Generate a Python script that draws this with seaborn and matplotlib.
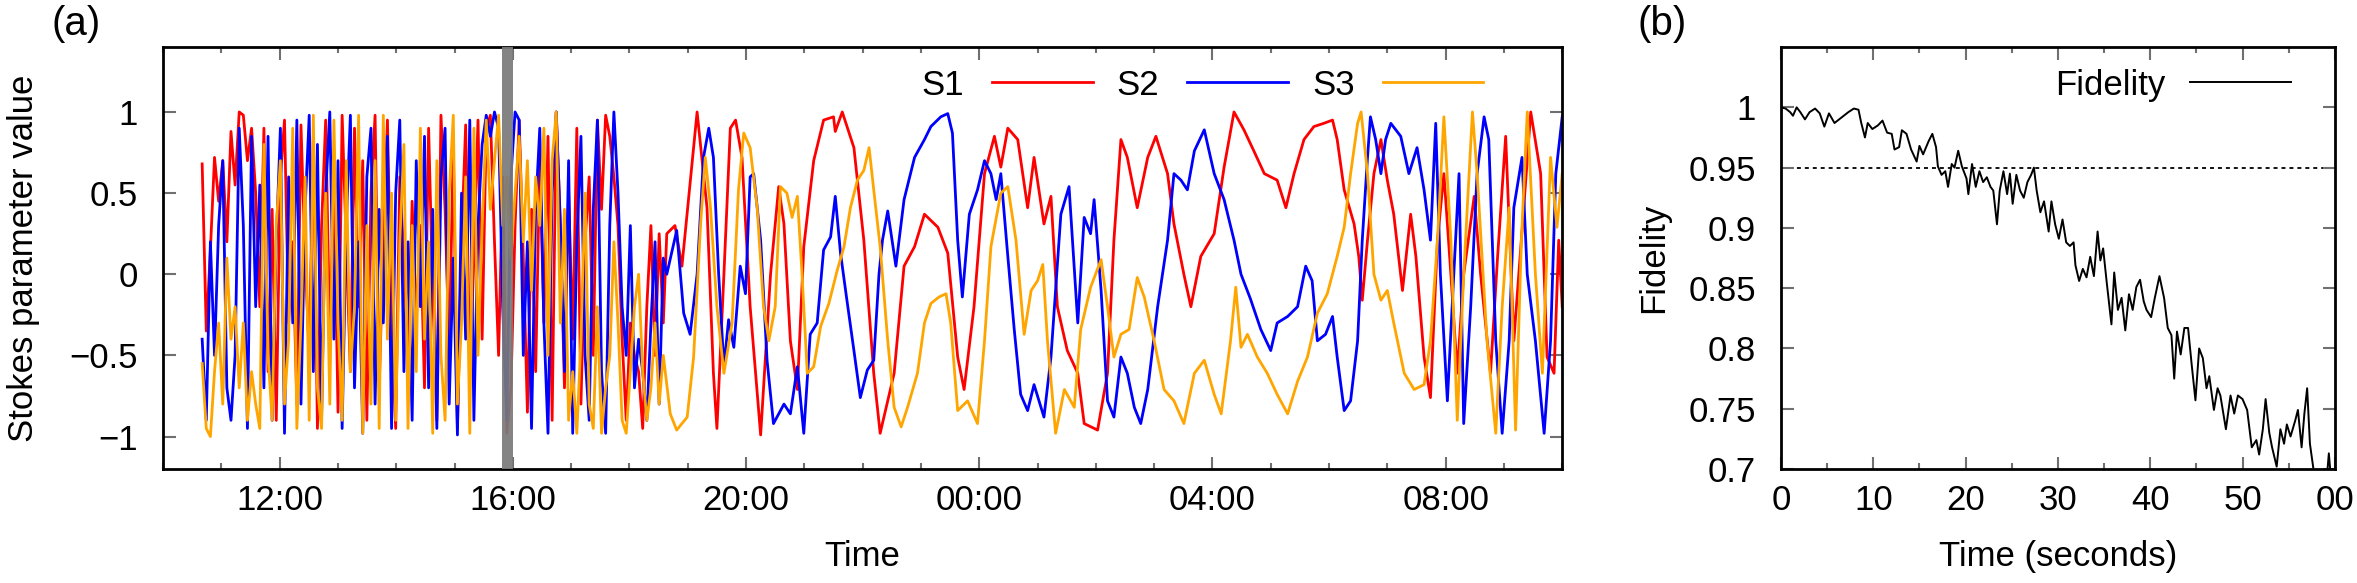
import numpy as np
import pandas as pd
import matplotlib
matplotlib.use('Agg')
import matplotlib.pyplot as plt
import seaborn as sns
from matplotlib.ticker import MultipleLocator, FixedLocator, FuncFormatter

plt.rcParams['font.family'] = ['Liberation Sans', 'DejaVu Sans']

# panel (a): clock hours (24+ means next day)
dense_start, dense_end = 10.67, 18.58

s1_dense = [0.68, -0.35, 0.15, 0.72, 0.45, 0.7, 0.2, 0.88, 0.55, 1.0, 0.98, 0.7, 0.9, 0.5,
            -0.2, 0.9, -0.6, 0.4, -0.9, 0.6, 0.95, -0.3, 0.2, -0.8, 0.92, 0.1, -0.5,
            0.85, -0.95, 0.3, 0.95, -0.4, 0.6, -0.85, 0.98, 0.2, -0.6, 0.9, -0.2, 0.7, -0.9,
            0.5, 0.98, -0.7, 0.2, 0.95, -0.3, -0.95, 0.6, 0.1, -0.6, 0.45, -0.3, 0.3, -0.7,
            0.9, -0.1, -0.9, 0.98, 0.4, -0.5, 0.8, -0.95, 0.2, 0.92, -0.6, 0.1, 0.95, -0.4,
            0.9, 0.98, 0.2, -0.5, 0.6, -0.98, -0.7, 0.3, 0.95, 0.1, -0.85, 0.4, -0.6, 0.7,
            -0.3, 0.85, -0.9, 1.0, 0.3, -0.7, 0.5, -0.4, 0.9, -0.8, 0.2, 0.6, -0.5, 0.95,
            0.4, 0.98, 0.85, 0.6, 0.3, -0.4, -0.9, -0.3, -0.5, -0.6, -0.95, -0.2, 0.3, -0.5, 0.25, -0.3]

s2_dense = [-0.4, -0.9, 0.2, -0.5, 0.3, 0.7, -0.7, -0.9, -0.5, 0.9, 0.3, -0.95, 0.85, -0.2,
            0.55, -0.7, 0.85, -0.9, 0.2, 0.9, -0.98, 0.6, -0.3, 0.95, -0.8, 0.4, 0.98,
            -0.6, 0.8, -0.9, 0.5, 1.0, -0.4, 0.7, -0.95, 0.3, 0.98, -0.7, 0.2, -0.98, 0.6,
            0.9, -0.8, 0.4, -0.3, 0.85, -0.95, 0.5, 0.95, -0.6, 0.2, -0.9, 0.7, -0.2, 0.85,
            -0.7, 0.4, -0.95, 0.6, 0.9, -0.8, 0.1, -0.99, 0.5, -0.4, 0.95, -0.9, 0.3, 0.8,
            0.98, 0.85, 1.0, 0.9, -0.2, -0.9, 0.6, 1.0, 0.95, -0.5, 0.2, -0.95, 0.4, 0.9,
            -0.3, -0.98, 0.5, 1.0, 0.3, -0.6, 0.7, -0.98, 0.2, 0.85, -0.5, -0.9, 0.4, 0.95,
            -0.6, -0.98, 0.3, 1.0, 0.5, -0.2, -0.5, 0.3, -0.7, -0.4, -0.6, -0.9, -0.3, 0.2, -0.8, 0.1]

s3_dense = [-0.55, -0.95, -1.0, -0.6, -0.3, -0.8, 0.1, -0.4, -0.2, -0.7, -0.3, -0.9, -0.6, -0.8,
            -0.95, 0.8, -0.5, -0.9, 0.3, 0.7, -0.8, -0.4, 0.9, -0.95, -0.3, 0.6, -0.9,
            0.98, -0.7, -0.95, 0.5, -0.8, 0.95, -0.3, -0.9, 0.7, -0.6, -0.2, 0.98, -0.98, 0.3,
            -0.8, 0.7, -0.95, 0.98, -0.4, 0.5, -0.9, 0.2, 0.8, -0.95, 0.3, -0.6, 0.9, -0.4,
            0.2, -0.98, 0.7, -0.5, -0.9, 0.5, 0.98, -0.8, -0.3, 0.6, -0.98, 0.9, -0.5, 0.3,
            0.95, 0.4, 0.7, 0.98, 0.3, 0.6, 0.1, 0.5, 0.85, 0.2, 0.7, -0.1, 0.6, 0.3,
            0.9, -0.5, 0.7, 1.0, -0.3, 0.4, -0.9, -0.6, -0.98, -0.4, 0.5, -0.8, -0.95, -0.2,
            -0.98, -0.7, -0.5, 0.2, -0.3, -0.9, -0.98, -0.6, -0.2, 0.0, -0.6, -0.9, -0.7, -0.3, -0.8, -0.5]

s1_slow = [(18.64, 0.25), (18.78, 0.3), (18.9, 0.05), (19.04, 0.56), (19.16, 1.0), (19.33, 0.41),
           (19.44, -0.61), (19.5, -0.95), (19.62, 0.0), (19.73, 0.9), (19.82, 0.95), (19.93, 0.72),
           (20.07, -0.2), (20.25, -0.99), (20.42, 0.0), (20.56, 0.54), (20.65, 0.31), (20.76, -0.41),
           (20.88, -0.71), (20.99, 0.17), (21.16, 0.7), (21.33, 0.95), (21.5, 0.97), (21.53, 0.88),
           (21.65, 1.0), (21.85, 0.78), (22.02, 0.21), (22.19, -0.61), (22.3, -0.98), (22.54, -0.61),
           (22.71, 0.05), (22.89, 0.17), (23.06, 0.37), (23.29, 0.29), (23.46, 0.13), (23.63, -0.51),
           (23.74, -0.71), (23.91, -0.2), (24.09, 0.62), (24.26, 0.85), (24.37, 0.66), (24.49, 0.9),
           (24.66, 0.83), (24.83, 0.41), (24.94, 0.72), (25.11, 0.31), (25.23, 0.48), (25.34, -0.2),
           (25.51, -0.47), (25.69, -0.61), (25.8, -0.92), (26.03, -0.96), (26.2, -0.61), (26.31, 0.21),
           (26.43, 0.83), (26.54, 0.72), (26.71, 0.41), (26.89, 0.72), (27.03, 0.85), (27.23, 0.62),
           (27.34, 0.31), (27.51, 0.0), (27.63, -0.2), (27.8, 0.11), (28.03, 0.25), (28.2, 0.66),
           (28.37, 1.0), (28.54, 0.89), (28.71, 0.76), (28.89, 0.62), (29.11, 0.58), (29.26, 0.41),
           (29.4, 0.62), (29.57, 0.83), (29.74, 0.91), (29.91, 0.93), (30.06, 0.95), (30.14, 0.83),
           (30.26, 0.52), (30.43, 0.31), (30.51, 0.11), (30.57, -0.16), (30.66, 0.21), (30.77, 0.62),
           (30.89, 0.83), (31.0, 0.58), (31.11, 0.37), (31.26, -0.1), (31.4, 0.37), (31.49, 0.11),
           (31.63, -0.51), (31.74, -0.76), (31.86, 0.21), (31.97, 0.62), (32.09, 0.0), (32.2, -0.61),
           (32.31, 0.0), (32.49, 0.48), (32.6, 0.0), (32.77, -0.61), (32.89, 0.1), (33.03, 0.85),
           (33.17, -0.41), (33.34, 0.41), (33.46, 1.0), (33.63, 0.62), (33.74, -0.51), (33.86, -0.61),
           (33.94, 0.21), (34.0, -0.2)]

s2_slow = [(18.64, 0.0), (18.81, 0.27), (18.93, -0.24), (19.04, -0.37), (19.16, 0.0), (19.27, 0.72),
           (19.36, 0.9), (19.44, 0.72), (19.53, 0.0), (19.62, -0.57), (19.7, -0.28), (19.79, -0.45),
           (19.9, 0.05), (19.99, -0.12), (20.07, 0.6), (20.13, 0.62), (20.25, 0.21), (20.36, -0.53),
           (20.47, -0.92), (20.65, -0.8), (20.76, -0.86), (20.88, -0.57), (20.99, -0.98), (21.1, -0.37),
           (21.22, -0.3), (21.33, 0.15), (21.45, 0.23), (21.53, 0.48), (21.62, 0.13), (21.73, -0.16),
           (21.85, -0.47), (21.96, -0.76), (22.08, -0.59), (22.19, -0.53), (22.28, 0.0), (22.34, 0.21),
           (22.43, 0.39), (22.57, 0.05), (22.71, 0.46), (22.89, 0.72), (23.06, 0.83), (23.17, 0.91),
           (23.34, 0.97), (23.46, 0.99), (23.54, 0.87), (23.63, 0.21), (23.71, -0.14), (23.83, 0.37),
           (23.97, 0.52), (24.09, 0.7), (24.2, 0.62), (24.29, 0.46), (24.37, 0.62), (24.49, 0.11),
           (24.6, -0.34), (24.71, -0.74), (24.83, -0.84), (24.94, -0.68), (25.11, -0.88), (25.23, -0.51),
           (25.4, 0.37), (25.54, 0.54), (25.69, -0.3), (25.8, 0.35), (25.91, 0.25), (25.97, 0.46),
           (26.09, -0.1), (26.2, -0.78), (26.31, -0.88), (26.43, -0.51), (26.54, -0.61), (26.66, -0.82),
           (26.77, -0.92), (26.89, -0.71), (27.06, -0.2), (27.23, 0.21), (27.34, 0.62), (27.46, 0.58),
           (27.57, 0.52), (27.69, 0.76), (27.86, 0.89), (28.03, 0.62), (28.2, 0.46), (28.37, 0.21),
           (28.49, 0.0), (28.65, -0.15), (28.83, -0.34), (29.0, -0.47), (29.11, -0.3), (29.29, -0.26),
           (29.46, -0.2), (29.6, 0.05), (29.71, -0.04), (29.8, -0.41), (29.94, -0.37), (30.06, -0.26),
           (30.14, -0.51), (30.26, -0.84), (30.37, -0.78), (30.49, -0.41), (30.57, 0.21), (30.66, 0.72),
           (30.71, 0.97), (30.8, 0.83), (30.89, 0.62), (30.97, 0.83), (31.06, 0.93), (31.23, 0.85),
           (31.37, 0.62), (31.51, 0.78), (31.63, 0.52), (31.74, 0.21), (31.83, 0.93), (31.91, 0.0),
           (32.03, -0.78), (32.14, 0.0), (32.23, 0.62), (32.31, -0.92), (32.43, -0.2), (32.54, 0.62),
           (32.66, 0.97), (32.74, 0.83), (32.86, -0.41), (32.97, -0.98), (33.09, -0.41), (33.17, 0.41),
           (33.31, 0.72), (33.4, 0.0), (33.54, -0.41), (33.69, -0.98), (33.8, -0.41), (33.89, 0.62),
           (34.0, 0.97)]

s3_slow = [(18.7, -0.86), (18.81, -0.96), (18.99, -0.88), (19.1, -0.51), (19.22, 0.31), (19.3, 0.72),
           (19.39, 0.41), (19.5, -0.2), (19.62, -0.61), (19.76, -0.3), (19.87, 0.52), (19.96, 0.87),
           (20.07, 0.78), (20.19, 0.41), (20.3, -0.2), (20.39, -0.41), (20.5, -0.2), (20.59, 0.54),
           (20.7, 0.5), (20.79, 0.35), (20.88, 0.48), (20.96, 0.0), (21.05, -0.61), (21.16, -0.57),
           (21.28, -0.32), (21.42, -0.18), (21.56, 0.02), (21.68, 0.17), (21.79, 0.41), (21.91, 0.58),
           (22.02, 0.64), (22.11, 0.78), (22.19, 0.52), (22.3, 0.17), (22.43, -0.41), (22.54, -0.82),
           (22.66, -0.94), (22.77, -0.82), (22.94, -0.61), (23.06, -0.3), (23.17, -0.18), (23.31, -0.14),
           (23.43, -0.12), (23.51, -0.3), (23.63, -0.84), (23.8, -0.78), (23.97, -0.92), (24.09, -0.41),
           (24.2, 0.17), (24.37, 0.5), (24.49, 0.54), (24.63, 0.21), (24.77, -0.37), (24.89, -0.1),
           (25.0, -0.04), (25.09, 0.06), (25.17, -0.41), (25.31, -0.98), (25.46, -0.71), (25.63, -0.82),
           (25.74, -0.34), (25.91, -0.08), (26.09, 0.09), (26.2, -0.2), (26.31, -0.51), (26.43, -0.37),
           (26.57, -0.34), (26.71, -0.02), (26.83, -0.14), (27.0, -0.41), (27.17, -0.71), (27.34, -0.78),
           (27.51, -0.92), (27.69, -0.61), (27.86, -0.53), (28.03, -0.74), (28.15, -0.86), (28.31, -0.41),
           (28.4, -0.08), (28.49, -0.45), (28.6, -0.37), (28.77, -0.51), (28.94, -0.61), (29.11, -0.74),
           (29.29, -0.86), (29.46, -0.66), (29.63, -0.51), (29.8, -0.24), (29.97, -0.12), (30.14, 0.11),
           (30.26, 0.29), (30.37, 0.62), (30.49, 0.93), (30.55, 1.0), (30.66, 0.62), (30.77, 0.0),
           (30.89, -0.16), (31.0, -0.1), (31.11, -0.3), (31.29, -0.61), (31.46, -0.71), (31.63, -0.68),
           (31.74, -0.41), (31.86, 0.21), (31.97, 0.97), (32.09, 0.21), (32.2, -0.9), (32.31, 0.0),
           (32.46, 1.0), (32.54, 0.62), (32.71, -0.41), (32.86, -0.98), (32.97, -0.2), (33.09, 0.41),
           (33.2, -0.96), (33.3, 0.21), (33.4, 1.0), (33.54, 0.0), (33.66, -0.61), (33.8, 0.72),
           (33.91, 0.29), (34.0, 0.62)]

# measurement window marked in grey
marker_start, marker_end = 15.81, 16.0

# panel (b): fidelity vs seconds
fidelity_points = [(0, 1.0), (0.5, 0.999), (1.0, 0.996), (1.3, 0.993), (1.7, 1.0), (2.1, 0.996),
                   (2.6, 0.99), (3.1, 0.996), (3.7, 0.999), (4.2, 0.995), (4.7, 0.984), (5.2, 0.995),
                   (5.8, 0.987), (6.3, 0.99), (6.8, 0.993), (7.3, 0.996), (7.9, 0.999), (8.4, 0.998),
                   (8.7, 0.987), (9.1, 0.975), (9.4, 0.987), (9.9, 0.982), (10.5, 0.985), (11.0, 0.989),
                   (11.5, 0.979), (12.0, 0.978), (12.3, 0.965), (12.8, 0.967), (13.1, 0.981), (13.6, 0.978),
                   (14.1, 0.965), (14.7, 0.955), (15.0, 0.968), (15.4, 0.961), (16.0, 0.972), (16.4, 0.978),
                   (16.8, 0.967), (17.0, 0.951), (17.4, 0.944), (17.8, 0.947), (18.1, 0.934), (18.5, 0.953),
                   (18.8, 0.95), (19.2, 0.964), (19.6, 0.951), (20.1, 0.941), (20.3, 0.928), (20.7, 0.953),
                   (21.1, 0.934), (21.5, 0.947), (21.9, 0.938), (22.3, 0.942), (22.7, 0.934), (23.0, 0.931),
                   (23.4, 0.903), (23.7, 0.931), (24.1, 0.947), (24.5, 0.928), (24.8, 0.945), (25.1, 0.92),
                   (25.5, 0.944), (25.9, 0.931), (26.3, 0.925), (26.7, 0.938), (27.1, 0.944), (27.4, 0.95),
                   (27.7, 0.931), (28.1, 0.913), (28.5, 0.922), (29.0, 0.897), (29.3, 0.922), (29.7, 0.903),
                   (30.1, 0.891), (30.5, 0.907), (30.9, 0.888), (31.3, 0.885), (31.7, 0.888), (31.9, 0.869),
                   (32.3, 0.856), (32.7, 0.866), (33.1, 0.859), (33.5, 0.876), (33.9, 0.86), (34.3, 0.897),
                   (34.6, 0.873), (34.9, 0.883), (35.3, 0.854), (35.8, 0.82), (36.1, 0.863), (36.5, 0.832),
                   (36.9, 0.842), (37.3, 0.815), (37.7, 0.845), (38.1, 0.832), (38.5, 0.851), (38.9, 0.857),
                   (39.3, 0.839), (39.6, 0.832), (40.1, 0.826), (40.5, 0.842), (41.0, 0.86), (41.5, 0.842),
                   (41.9, 0.817), (42.3, 0.811), (42.6, 0.775), (42.9, 0.814), (43.3, 0.795), (43.7, 0.817),
                   (44.1, 0.817), (44.5, 0.786), (44.9, 0.757), (45.3, 0.8), (45.7, 0.792), (46.1, 0.767),
                   (46.4, 0.777), (46.9, 0.749), (47.3, 0.767), (47.6, 0.761), (48.2, 0.733), (48.7, 0.761),
                   (49.1, 0.746), (49.5, 0.761), (50.0, 0.758), (50.5, 0.749), (51.0, 0.718), (51.5, 0.724),
                   (51.8, 0.712), (52.2, 0.733), (52.5, 0.758), (52.9, 0.73), (53.2, 0.718), (53.7, 0.702),
                   (54.1, 0.733), (54.5, 0.721), (54.8, 0.737), (55.2, 0.727), (55.7, 0.74), (56.0, 0.749),
                   (56.4, 0.718), (56.7, 0.746), (57.0, 0.767), (57.3, 0.721), (57.7, 0.699), (58.0, 0.685),
                   (58.6, 0.68), (59.1, 0.69), (59.35, 0.713), (59.6, 0.69), (60.0, 0.68)]
fidelity_threshold = 0.95


def stokes_frame(dense, slow):
    t = np.concatenate([np.linspace(dense_start, dense_end, len(dense)), [p[0] for p in slow]])
    v = np.concatenate([dense, [p[1] for p in slow]])
    return pd.DataFrame({'time': t, 'value': v})


FS = 25
TICK_COLOR = '#707070'

fig = plt.figure(figsize=(23.57, 5.83), dpi=100)
ax1 = fig.add_axes([0.0692, 0.1955, 0.5936, 0.7238])
ax2 = fig.add_axes([0.7556, 0.1955, 0.2350, 0.7238])

for dense, slow, col, name in [(s1_dense, s1_slow, '#ff0000', 'S1'),
                               (s2_dense, s2_slow, '#0000ff', 'S2'),
                               (s3_dense, s3_slow, '#ffa500', 'S3')]:
    df = stokes_frame(dense, slow)
    sns.lineplot(data=df, x='time', y='value', ax=ax1, color=col, lw=2.0,
                 label=name, estimator=None, sort=False)

ax1.axvspan(marker_start, marker_end, color='#7a7a7a', alpha=0.92, lw=0, zorder=5)

ax1.set_xlim(10, 34)
ax1.set_ylim(-1.2, 1.4)
ax1.xaxis.set_major_locator(FixedLocator([12, 16, 20, 24, 28, 32]))
ax1.xaxis.set_minor_locator(MultipleLocator(1))
ax1.xaxis.set_major_formatter(FuncFormatter(lambda h, p: f'{int(round(h)) % 24:02d}:00'))
ax1.set_yticks([-1, -0.5, 0, 0.5, 1])
ax1.set_yticklabels(['\u22121', '\u22120.5', '0', '0.5', '1'])
ax1.set_xlabel('Time', fontsize=FS)
ax1.set_ylabel('Stokes parameter value', fontsize=FS)
ax1.xaxis.set_label_coords(0.5, -0.168)
ax1.yaxis.set_label_coords(-0.088, 0.5)

h, l = ax1.get_legend_handles_labels()
ax1.legend(h, l, ncol=3, markerfirst=False, frameon=False, fontsize=FS,
           handlelength=2.9, handletextpad=0.8, columnspacing=0.7,
           loc='center right', bbox_to_anchor=(0.9436, 0.91),
           borderpad=0, borderaxespad=0)

# panel (b)
fid = pd.DataFrame(fidelity_points, columns=['seconds', 'fidelity'])
ax2.axhline(fidelity_threshold, color='black', lw=1.3, ls=(0, (2.2, 2.2)), zorder=1)
sns.lineplot(data=fid, x='seconds', y='fidelity', ax=ax2, color='black', lw=1.4,
             label='Fidelity', estimator=None, sort=False, zorder=2)
ax2.set_xlim(0, 60)
ax2.set_ylim(0.7, 1.05)
ax2.set_xticks([0, 10, 20, 30, 40, 50, 60])
ax2.set_xticklabels(['0', '10', '20', '30', '40', '50', '00'])
ax2.xaxis.set_minor_locator(MultipleLocator(5))
ax2.set_yticks([0.7, 0.75, 0.8, 0.85, 0.9, 0.95, 1.0])
ax2.set_yticklabels(['0.7', '0.75', '0.8', '0.85', '0.9', '0.95', '1'])
ax2.set_xlabel('Time (seconds)', fontsize=FS)
ax2.set_ylabel('Fidelity', fontsize=FS)
ax2.xaxis.set_label_coords(0.5, -0.168)
ax2.yaxis.set_label_coords(-0.2, 0.5)
h, l = ax2.get_legend_handles_labels()
ax2.legend(h, l, markerfirst=False, frameon=False, fontsize=FS,
           handlelength=2.9, handletextpad=0.7,
           loc='center right', bbox_to_anchor=(0.92, 0.91),
           borderpad=0, borderaxespad=0)

for ax in (ax1, ax2):
    ax.tick_params(which='both', direction='in', top=True, right=True,
                   color=TICK_COLOR, width=1.5, labelsize=FS)
    ax.tick_params(which='major', length=9)
    ax.tick_params(which='minor', length=4.5)
    ax.tick_params(axis='x', which='major', pad=11)
    ax.tick_params(axis='y', which='major', pad=18)
    for s in ax.spines.values():
        s.set_color('black')
        s.set_linewidth(2)

fig.text(52 / 2357, 1 - 5 / 583, '(a)', fontsize=29, va='top', ha='left')
fig.text(1637 / 2357, 1 - 5 / 583, '(b)', fontsize=29, va='top', ha='left')

fig.savefig('out.png', dpi=100)
